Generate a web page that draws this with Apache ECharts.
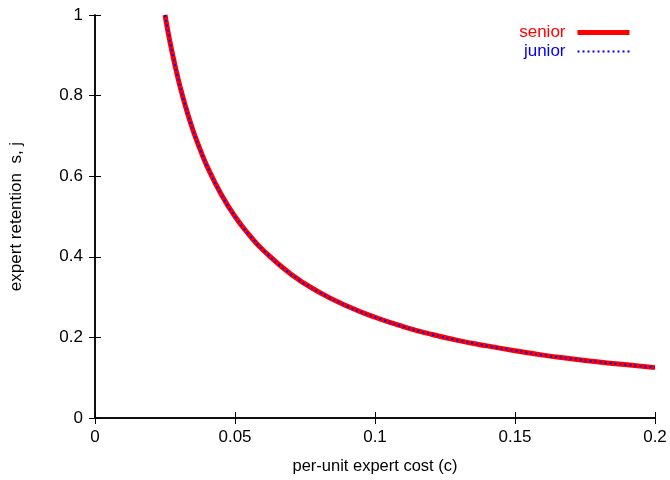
<!DOCTYPE html>
<html>
<head>
<meta charset="utf-8">
<script src="https://cdn.jsdelivr.net/npm/echarts@6/dist/echarts.min.js"></script>
<style>
  html, body { margin: 0; padding: 0; background: #fff; }
  #chart { width: 670px; height: 480px; }
</style>
</head>
<body>
<div id="chart"></div>
<script>
// per-unit expert cost (c)
const cost = [0.025, 0.0265, 0.028, 0.03, 0.0325, 0.035, 0.0375, 0.04, 0.045, 0.05,
  0.055, 0.06, 0.07, 0.08, 0.09, 0.1, 0.11, 0.12, 0.13, 0.14, 0.15, 0.16, 0.17,
  0.18, 0.19, 0.2];
// retention of senior experts
const senior = [1.0, 0.943, 0.893, 0.833, 0.769, 0.714, 0.667, 0.625, 0.556, 0.5,
  0.455, 0.417, 0.357, 0.3125, 0.278, 0.25, 0.227, 0.208, 0.192, 0.179, 0.167,
  0.156, 0.147, 0.139, 0.132, 0.125];
// retention of junior experts
const junior = [1.0, 0.943, 0.893, 0.833, 0.769, 0.714, 0.667, 0.625, 0.556, 0.5,
  0.455, 0.417, 0.357, 0.3125, 0.278, 0.25, 0.227, 0.208, 0.192, 0.179, 0.167,
  0.156, 0.147, 0.139, 0.132, 0.125];
const seriesNames = ['senior', 'junior'];

const FONT = 'Liberation Sans, Arial, Helvetica, sans-serif';
const pairs = (xs, ys) => xs.map((x, i) => [x, ys[i]]);

const chart = echarts.init(document.getElementById('chart'), null, { renderer: 'canvas' });

const baseAxis = {
  axisLine: { show: true, lineStyle: { color: '#000', width: 1.5 } },
  axisTick: { show: true, inside: true, length: 6, lineStyle: { color: '#000', width: 1 } },
  splitLine: { show: false },
  axisLabel: { color: '#000', fontFamily: FONT, fontSize: 17 }
};

chart.setOption({
  animation: false,
  backgroundColor: '#fff',
  grid: { left: 95, right: 15, top: 15, bottom: 62, containLabel: false },
  legend: {
    data: [
      {
        name: seriesNames[0], textStyle: { color: '#ff0000' },
        lineStyle: { color: '#ff0000', width: 5 }
      },
      {
        name: seriesNames[1], textStyle: { color: '#0000ff' },
        lineStyle: { color: '#0000ff', width: 2, type: [2, 3] }
      }
    ],
    orient: 'vertical',
    align: 'right',
    right: 33,
    top: 19,
    itemWidth: 52,
    itemHeight: 18,
    itemGap: 2,
    itemStyle: { opacity: 0 },
    textStyle: { fontFamily: FONT, fontSize: 17, padding: [0, 7, 0, 0] }
  },
  xAxis: [
    Object.assign({}, baseAxis, {
      type: 'value', min: 0, max: 0.2, interval: 0.05,
      name: 'per-unit expert cost (c)',
      nameLocation: 'middle', nameGap: 40,
      nameTextStyle: { color: '#000', fontFamily: FONT, fontSize: 16.5 },
      axisLabel: Object.assign({}, baseAxis.axisLabel, { margin: 11 })
    }),
    Object.assign({}, baseAxis, {
      type: 'value', min: 0, max: 0.2, interval: 0.05, position: 'top',
      axisLabel: { show: false }
    })
  ],
  yAxis: [
    Object.assign({}, baseAxis, {
      type: 'value', min: 0, max: 1, interval: 0.2,
      name: 'expert retention  s, j',
      nameLocation: 'middle', nameGap: 70,
      nameTextStyle: { color: '#000', fontFamily: FONT, fontSize: 17 },
      axisLabel: Object.assign({}, baseAxis.axisLabel, { margin: 12 })
    }),
    Object.assign({}, baseAxis, {
      type: 'value', min: 0, max: 1, interval: 0.2, position: 'right',
      axisLabel: { show: false }
    })
  ],
  series: [
    {
      name: seriesNames[0], type: 'line', smooth: true, symbol: 'none',
      data: pairs(cost, senior),
      lineStyle: { color: '#ff0000', width: 5 },
      itemStyle: { color: '#ff0000' }
    },
    {
      name: seriesNames[1], type: 'line', smooth: true, symbol: 'none',
      data: pairs(cost, junior),
      lineStyle: { color: '#0000ff', width: 2, type: [2, 3] },
      itemStyle: { color: '#0000ff' }
    }
  ]
});
</script>
</body>
</html>
